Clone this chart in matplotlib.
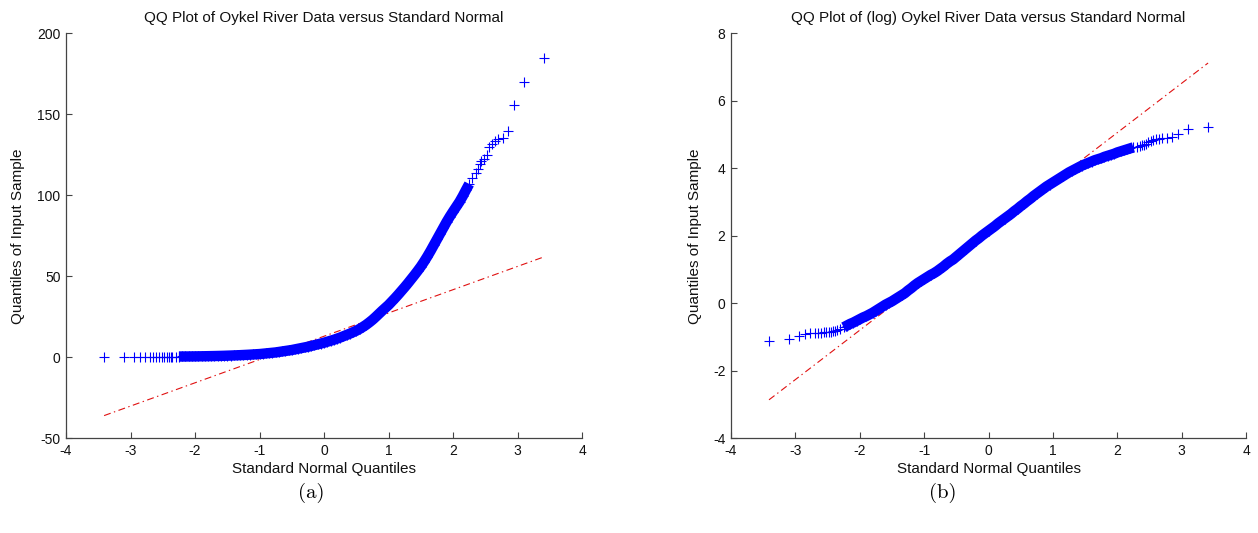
import numpy as np
import matplotlib
matplotlib.use('agg')
import matplotlib.pyplot as plt

plt.rcParams['font.family'] = ['Liberation Sans', 'DejaVu Sans']
plt.rcParams['axes.unicode_minus'] = False
plt.rcParams['lines.scale_dashes'] = False

# theoretical quantiles of the dense middle section
mid_x = np.round(np.arange(-2.35, 2.351, 0.05), 2)

# Oykel river flow, sample quantiles
flow_lo_x = [-3.41, -3.10, -2.95, -2.85, -2.77, -2.70, -2.65, -2.60, -2.56, -2.52, -2.48, -2.44, -2.41, -2.38]
flow_lo_y = [0.32, 0.34, 0.38, 0.41, 0.42, 0.42, 0.42, 0.42, 0.43, 0.43, 0.43, 0.44, 0.44, 0.45]
flow_mid_y = [
    0.46, 0.47, 0.48, 0.49, 0.50, 0.52, 0.54, 0.56, 0.59, 0.62,
    0.65, 0.69, 0.73, 0.77, 0.82, 0.87, 0.93, 1.00, 1.07, 1.15,
    1.23, 1.32, 1.42, 1.52, 1.63, 1.75, 1.88, 2.0, 2.2, 2.4,
    2.6, 2.8, 3.0, 3.3, 3.6, 3.9, 4.2, 4.5, 4.9, 5.3,
    5.7, 6.1, 6.5, 7.0, 7.5, 8.0, 8.5, 9.0, 9.6, 10.2,
    10.8, 11.5, 12.2, 13.0, 13.8, 14.6, 15.5, 16.4, 17.5, 18.7,
    20.0, 21.5, 23.1, 24.9, 26.8, 28.7, 30.5, 32.3, 34.4, 36.5,
    38.7, 41.0, 43.3, 45.7, 48.2, 50.7, 53.3, 56.0, 59.0, 62.2,
    65.6, 69.2, 72.8, 76.4, 80.0, 83.6, 86.9, 90.0, 93.0, 96.0,
    99.5, 103.3, 107.0, 110.5, 113.5]
flow_hi_x = [2.38, 2.41, 2.44, 2.48, 2.52, 2.56, 2.60, 2.65, 2.70, 2.77, 2.85, 2.95, 3.10, 3.41]
flow_hi_y = [116.0, 119.5, 121.0, 122.5, 125.0, 130.0, 131.5, 133.5, 134.5, 135.5, 139.5, 156.0, 170.0, 184.5]
flow_line_x = [-3.41, 3.41]
flow_line_y = [-36.0, 62.0]

# log flow, sample quantiles
logf_lo_x = [-3.41, -3.10, -2.95, -2.85, -2.77, -2.70, -2.65, -2.60, -2.56, -2.52, -2.48, -2.44, -2.41, -2.38]
logf_lo_y = [-1.13, -1.07, -0.97, -0.90, -0.88, -0.87, -0.87, -0.87, -0.86, -0.86, -0.85, -0.84, -0.83, -0.81]
logf_mid_y = [
    -0.80, -0.76, -0.71, -0.66, -0.61, -0.57, -0.52, -0.47, -0.42, -0.38,
    -0.33, -0.28, -0.22, -0.16, -0.10, -0.04, 0.01, 0.06, 0.12, 0.18,
    0.24, 0.30, 0.38, 0.45, 0.53, 0.60, 0.66, 0.72, 0.78, 0.84,
    0.89, 0.95, 1.02, 1.09, 1.17, 1.24, 1.30, 1.38, 1.46, 1.54,
    1.62, 1.70, 1.78, 1.86, 1.93, 2.01, 2.08, 2.15, 2.22, 2.29,
    2.37, 2.44, 2.51, 2.58, 2.65, 2.73, 2.80, 2.88, 2.95, 3.03,
    3.10, 3.18, 3.25, 3.32, 3.39, 3.46, 3.52, 3.58, 3.64, 3.70,
    3.76, 3.82, 3.88, 3.93, 3.98, 4.03, 4.08, 4.12, 4.16, 4.20,
    4.24, 4.27, 4.30, 4.34, 4.37, 4.40, 4.43, 4.47, 4.50, 4.53,
    4.56, 4.59, 4.62, 4.64, 4.66]
logf_hi_x = [2.38, 2.41, 2.44, 2.48, 2.52, 2.56, 2.60, 2.65, 2.70, 2.77, 2.85, 2.95, 3.10, 3.41]
logf_hi_y = [4.68, 4.70, 4.73, 4.77, 4.80, 4.83, 4.86, 4.88, 4.90, 4.91, 4.93, 5.03, 5.15, 5.22]
logf_line_x = [-3.41, 3.41]
logf_line_y = [-2.86, 7.12]

BLUE = '#0000ff'

fig = plt.figure(figsize=(12.58, 5.33), dpi=100)
ax1 = fig.add_axes([0.0525, 0.1777, 0.4102, 0.7598])
ax2 = fig.add_axes([0.5811, 0.1777, 0.4094, 0.7598])

panels = [
    (ax1, flow_lo_x, flow_lo_y, flow_mid_y, flow_hi_x, flow_hi_y, flow_line_x, flow_line_y,
     'QQ Plot of Oykel River Data versus Standard Normal', (-50, 200), np.arange(-50, 201, 50), -0.0795),
    (ax2, logf_lo_x, logf_lo_y, logf_mid_y, logf_hi_x, logf_hi_y, logf_line_x, logf_line_y,
     'QQ Plot of (log) Oykel River Data versus Standard Normal', (-4, 8), np.arange(-4, 9, 2), -0.056),
]

for ax, lx, ly, my, hx, hy, rx, ry, title, ylim, yticks, ylab_x in panels:
    # reference line sits underneath the data
    ax.plot(rx, ry, color='#e01010', lw=0.8, ls=(0, (5, 2.5, 1, 2.5)), zorder=1)
    # the middle quantiles are packed so tightly they merge into one band;
    # leave the outermost couple as separate crosses
    ax.plot(mid_x[2:-2], my[2:-2], color=BLUE, lw=7.5, solid_capstyle='butt',
            solid_joinstyle='round', zorder=2)
    qx = list(lx) + list(mid_x) + list(hx)
    qy = list(ly) + list(my) + list(hy)
    ax.plot(qx, qy, ls='none', marker='+', ms=6.5, mew=0.8, color=BLUE, zorder=3)
    ax.set_xlim(-4, 4)
    ax.set_ylim(*ylim)
    ax.set_xticks(np.arange(-4, 5, 1))
    ax.set_yticks(yticks)
    for s in ['top', 'right']:
        ax.spines[s].set_visible(False)
    for s in ['left', 'bottom']:
        ax.spines[s].set_color('#444444')
        ax.spines[s].set_linewidth(0.9)
    ax.tick_params(direction='in', length=4, width=0.8, color='#444444',
                   labelsize=10, labelcolor='#111111', pad=4)
    ax.set_title(title, fontsize=11, pad=8, color='#111111')
    ax.set_xlabel('Standard Normal Quantiles', fontsize=11, color='#111111')
    ax.set_ylabel('Quantiles of Input Sample', fontsize=11, color='#111111')
    ax.xaxis.set_label_coords(0.5, -0.059)
    ax.yaxis.set_label_coords(ylab_x, 0.5)

fig.text(311 / 1258, 1 - 493 / 533, '(a)', family='cmr10', fontsize=15, ha='center', va='center')
fig.text(943 / 1258, 1 - 493 / 533, '(b)', family='cmr10', fontsize=15, ha='center', va='center')

fig.savefig('out.png', dpi=100)
